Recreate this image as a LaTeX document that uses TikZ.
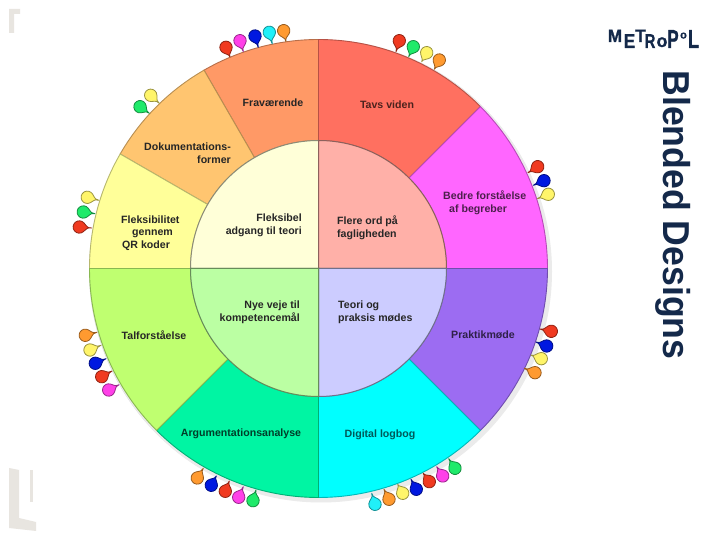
\documentclass[tikz,border=0pt]{standalone}
\usepackage{fontspec}
\setmainfont{Liberation Sans}
\newfontfamily\logofont[UprightFont={* Bold},FakeBold=1]{Liberation Sans}
\usetikzlibrary{calc}
\definecolor{navy}{HTML}{14294A}
\definecolor{cFra}{HTML}{FF9966}
\definecolor{cDok}{HTML}{FFC570}
\definecolor{cFle}{HTML}{FFFF99}
\definecolor{cTav}{HTML}{FF7060}
\definecolor{cBed}{HTML}{FF66FF}
\definecolor{cPra}{HTML}{9C6CF2}
\definecolor{cDig}{HTML}{00FFFF}
\definecolor{cArg}{HTML}{00F5A3}
\definecolor{cTal}{HTML}{BFFF70}
\definecolor{iFle}{HTML}{FFFFD8}
\definecolor{iFor}{HTML}{FFB0A8}
\definecolor{iTeo}{HTML}{CCCCFF}
\definecolor{iNye}{HTML}{BBFFA3}
\definecolor{corner}{HTML}{E8E5E0}
\definecolor{pR}{HTML}{F03A20}
\definecolor{pG}{HTML}{1FEA6A}
\definecolor{pY}{HTML}{FFF56A}
\definecolor{pO}{HTML}{FF9A30}
\definecolor{pM}{HTML}{FF40E8}
\definecolor{pB}{HTML}{0018E0}
\definecolor{pC}{HTML}{20F0F8}
\tikzset{
  lab/.style={font=\fontsize{10.6}{12.7}\selectfont\bfseries, inner sep=0pt, align=center, text=black!85},
  logo/.style={font=\logofont\fontsize{#1}{#1}\selectfont, text=navy, inner sep=0pt, anchor=base}
}
\newcommand\outerseg[3]{\draw[#3!72!black, line width=.9pt, fill=#3]
  (#1:128pt) -- (#1:229pt) arc[start angle=#1, end angle=#2, radius=229pt] -- (#2:128pt)
  arc[start angle=#2, end angle=#1, radius=128pt] -- cycle;}
\newcommand\innerseg[3]{\draw[#3!55!black, line width=1pt, fill=#3]
  (0,0) -- (#1:128pt) arc[start angle=#1, end angle=#2, radius=128pt] -- cycle;}
\newcommand\pinmark[5]{\draw[#5!60!black, line width=.8pt, fill=#5, line join=round]
  let \p1=($(#3,540-#4)-(#1,540-#2)$), \n1={atan2(\y1,\x1)} in
  (#1,540-#2) ++(\n1+45:6.2pt) arc[start angle=\n1+45, delta angle=270, radius=6.2pt]
  .. controls ($(#1,540-#2)+(\n1:8.5pt)$) .. (#3,540-#4)
  .. controls ($(#1,540-#2)+(\n1:8.5pt)$) .. cycle;}
\begin{document}
\begin{tikzpicture}
\useasboundingbox (0,0) rectangle (720pt,540pt);
\fill[white] (0,0) rectangle (720pt,540pt);
% corners
\begin{scope}[x=1pt,y=-1pt,shift={(0pt,540pt)}]
\fill[corner] (9,9) -- (20,9) -- (20,14) -- (14,14) -- (14,33) -- (9,33) -- cycle;
\fill[corner] (9,468) -- (19,470) -- (19,518) -- (36,522) -- (36,531) -- (9,528) -- cycle;
\fill[corner] (30,470) -- (33,470) -- (33,502) -- (30,502) -- cycle;
\end{scope}
% wheel
\begin{scope}[shift={(318.5pt,271.5pt)}]
\fill[black!14] (1.5pt,-2pt) circle (231pt);
\fill[black!8] (2.5pt,-3pt) circle (231pt);
\outerseg{90}{120}{cFra}
\outerseg{120}{150}{cDok}
\outerseg{150}{180}{cFle}
\outerseg{45}{90}{cTav}
\outerseg{0}{45}{cBed}
\outerseg{-45}{0}{cPra}
\outerseg{-90}{-45}{cDig}
\outerseg{-135}{-90}{cArg}
\outerseg{-180}{-135}{cTal}
\innerseg{90}{180}{iFle}
\innerseg{0}{90}{iFor}
\innerseg{-90}{0}{iTeo}
\innerseg{180}{270}{iNye}
\end{scope}
\begin{scope}[x=1pt,y=-1pt,shift={(0pt,540pt)}]
% labels
\node[lab] (tFra) at (273,102.5) {Fraværende};
\node[lab,align=right,anchor=east] (tDok) at (231,153.5) {Dokumentations-\\former};
\node[lab,align=left,anchor=west] (tFle) at (121,233) {Fleksibilitet\\\hspace{11pt}gennem\\\hspace{1pt}QR koder};
\node[lab,align=right,anchor=east] (tFad) at (302,225.5) {Fleksibel\\adgang til teori};
\node[lab,text=black!70!cTav] (tTav) at (387,104.5) {Tavs viden};
\node[lab,align=left,anchor=west,text=black!70!cBed] (tBed) at (443,202.5) {Bedre forståelse\\\hspace{6pt}af begreber};
\node[lab,align=left,anchor=west] (tFor) at (337,227.5) {Flere ord på\\fagligheden};
\node[lab,align=right,anchor=east] (tNye) at (300,312) {Nye veje til\\kompetencemål};
\node[lab] (tTal) at (154,335) {Talforståelse};
\node[lab,text=black!75!cArg] (tArg) at (241,434) {Argumentationsanalyse};
\node[lab,align=left,anchor=west] (tTeo) at (338,312) {Teori og\\praksis mødes};
\node[lab,text=black!70!cPra] (tPra) at (483,334.5) {Praktikmøde};
\node[lab,text=black!65!cDig] (tDig) at (380,435) {Digital logbog};
% title
\node[font=\fontsize{37.5}{40}\selectfont\bfseries,text=navy,rotate=-90,inner sep=0pt,anchor=base] (title) at (663.5,215) {\scalebox{.95}[1]{Blended Designs}};
% logo
\node[logo=18,xscale=.95] (l1) at (615,42) {M};
\node[logo=20,xscale=.85] (l2) at (629.5,48) {E};
\node[logo=18,xscale=.95] (l3) at (640.5,42) {T};
\node[logo=20,xscale=.75] (l4) at (650,48) {R};
\node[logo=18] (l5) at (662,47) {o};
\node[logo=26,xscale=.65] (l6) at (673,48) {P};
\node[logo=11] (l7) at (683.5,38.5) {o};
\node[logo=26,xscale=.7] (l8) at (693.5,48) {L};
\end{scope}
% pins: head x, head y, tip x, tip y, colour
\begin{scope}[x=1pt,y=1pt]
\pinmark{226}{47.3}{230}{57}{pR}
\pinmark{240}{40.7}{243.3}{51.7}{pM}
\pinmark{255}{36}{258.3}{47.3}{pB}
\pinmark{269.3}{32.3}{272.3}{44}{pC}
\pinmark{283.7}{30.7}{286}{41.7}{pO}
\pinmark{150.7}{95.3}{159.3}{103.3}{pY}
\pinmark{140}{106.7}{149.3}{113.3}{pG}
\pinmark{87.3}{197.3}{99}{200.3}{pY}
\pinmark{83.3}{212}{95}{213.7}{pG}
\pinmark{79.3}{227}{91.7}{228}{pR}
\pinmark{399.3}{40.7}{396}{51.7}{pR}
\pinmark{413.3}{46.7}{408.7}{56.7}{pG}
\pinmark{426.7}{52.7}{421.7}{61.7}{pY}
\pinmark{439.3}{60}{434.3}{69.3}{pO}
\pinmark{537.7}{166.7}{528}{172.7}{pR}
\pinmark{544}{180.7}{533.3}{185.3}{pB}
\pinmark{548.3}{194.3}{537.3}{198.7}{pY}
\pinmark{85.3}{335.3}{97}{332.3}{pO}
\pinmark{90}{350}{101}{345.3}{pY}
\pinmark{95.3}{363.3}{106}{358.7}{pB}
\pinmark{101.7}{376.7}{112}{371}{pR}
\pinmark{108.7}{390}{119}{384.7}{pM}
\pinmark{197.3}{478}{203.3}{468.3}{pO}
\pinmark{211.3}{485.3}{216.3}{476}{pB}
\pinmark{225.3}{491.3}{229.3}{481}{pR}
\pinmark{238.7}{497.3}{243.3}{486.7}{pM}
\pinmark{253}{500.7}{256}{490}{pG}
\pinmark{551.3}{331.3}{540}{329}{pR}
\pinmark{546.7}{346}{536}{342}{pB}
\pinmark{541.3}{358.7}{531}{355}{pY}
\pinmark{535}{372.7}{524.3}{368.3}{pO}
\pinmark{375}{504.3}{371.7}{493.3}{pC}
\pinmark{389}{499.3}{384}{489.3}{pO}
\pinmark{402.7}{493.3}{397.7}{484.3}{pY}
\pinmark{416.3}{489.3}{411}{479.3}{pB}
\pinmark{429.3}{481.7}{423.3}{473.3}{pR}
\pinmark{442.7}{476}{436.7}{466.7}{pM}
\pinmark{455}{468.3}{448.7}{458.7}{pG}
\end{scope}
\end{tikzpicture}
\end{document}
